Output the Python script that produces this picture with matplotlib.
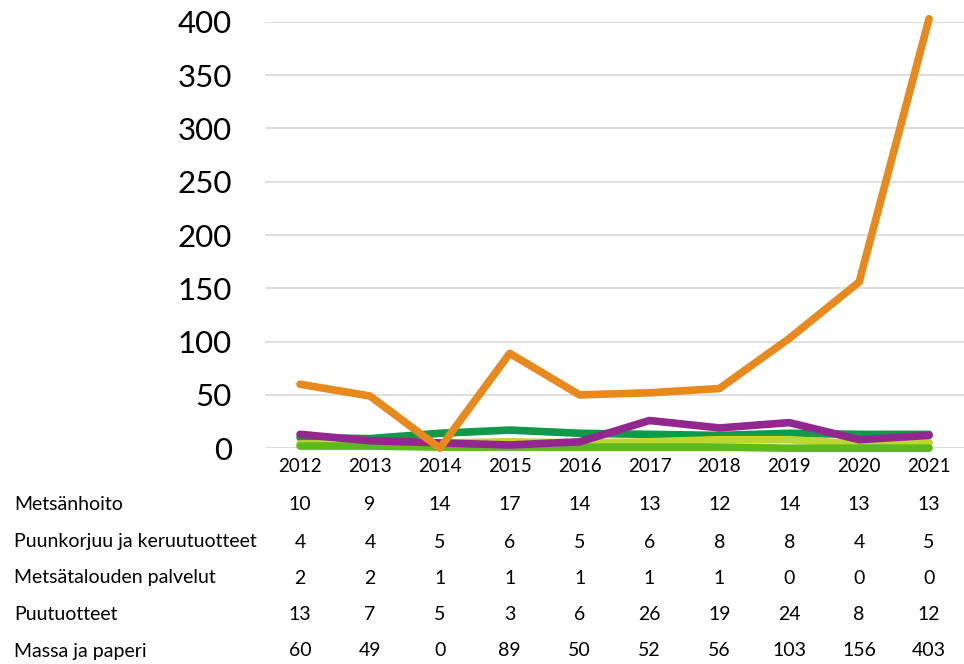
import matplotlib.pyplot as plt
import matplotlib.transforms as mtransforms

plt.rcParams['font.family'] = ['Lato', 'DejaVu Sans']

years = ['2012', '2013', '2014', '2015', '2016', '2017', '2018', '2019', '2020', '2021']
metsanhoito = [10, 9, 14, 17, 14, 13, 12, 14, 13, 13]
puunkorjuu = [4, 4, 5, 6, 5, 6, 8, 8, 4, 5]
palvelut = [2, 2, 1, 1, 1, 1, 1, 0, 0, 0]
puutuotteet = [13, 7, 5, 3, 6, 26, 19, 24, 8, 12]
massa = [60, 49, 0, 89, 50, 52, 56, 103, 156, 403]

series = [
    ('Metsänhoito', metsanhoito, '#0E9A48'),
    ('Puunkorjuu ja keruutuotteet', puunkorjuu, '#BED630'),
    ('Metsätalouden palvelut', palvelut, '#5CB91E'),
    ('Puutuotteet', puutuotteet, '#92278F'),
    ('Massa ja paperi', massa, '#E8891E'),
]

fig = plt.figure(figsize=(9.64, 6.64), dpi=100)
ax = fig.add_axes([0.275, 0.325, 0.725, 0.642])

x = list(range(len(years)))
for name, vals, col in series:
    ax.plot(x, vals, color=col, lw=5.5, solid_capstyle='round', solid_joinstyle='round', clip_on=False)

ax.set_xlim(-0.5, len(years) - 0.5)
ax.set_ylim(0, 400)
ax.set_yticks(range(0, 401, 50))
ax.yaxis.grid(True, color='#D9D9D9', lw=1.2)
ax.set_axisbelow(True)
for s in ax.spines.values():
    s.set_visible(False)
ax.tick_params(axis='y', length=0, labelsize=22.5, pad=24)
ax.tick_params(axis='x', length=0, labelsize=13.5, pad=7)
ax.set_xticks(x)
ax.set_xticklabels(years)

# data table under the chart
row_y = [505, 542, 578, 615, 651]
trans = mtransforms.blended_transform_factory(ax.transData, fig.transFigure)
for (name, vals, col), py in zip(series, row_y):
    fy = 1 - py / 664
    fig.text(14 / 964, fy, name, ha='left', va='center', fontsize=14)
    for i, v in enumerate(vals):
        ax.text(i, fy, str(v), transform=trans, ha='center', va='center', fontsize=14)

fig.savefig('out.png', dpi=100)
